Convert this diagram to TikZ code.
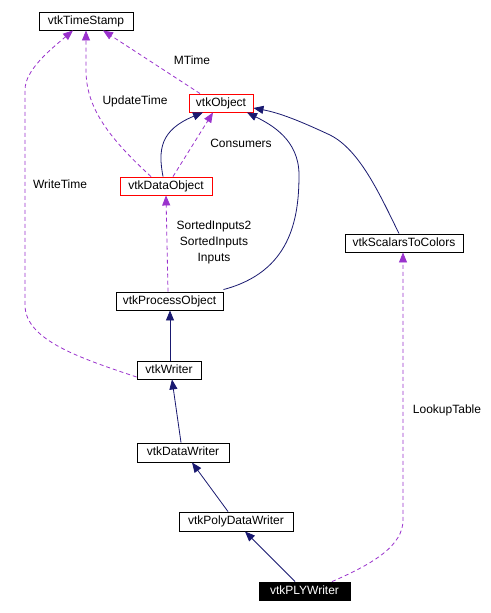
\documentclass[tikz,border=0pt]{standalone}
\usepackage{fontspec}
\setmainfont{Liberation Sans}
\usetikzlibrary{arrows.meta,calc}
\definecolor{inhblue}{HTML}{191970}
\definecolor{usepurple}{HTML}{9A32CD}
\begin{document}
\begin{tikzpicture}[x=1pt,y=-1pt,
  font=\fontsize{12}{16}\selectfont,
  cls/.style={draw=black,line width=0.9pt,fill=white,inner sep=0pt,minimum height=18pt,text height=9pt,text depth=2.5pt},
  redcls/.style={cls,draw=red},
  curcls/.style={cls,fill=black,text=white},
  inh/.style={draw=inhblue,line width=0.8pt,-{Triangle[length=10pt,width=8pt]}},
  use/.style={draw=usepurple,line width=0.8pt,dash pattern=on 4pt off 3pt,-{Triangle[length=10pt,width=8pt,fill=usepurple]}},
  lbl/.style={inner sep=0pt,align=center}]
\useasboundingbox (0,0) rectangle (490,613);
\fill[white] (0,0) rectangle (490,613);
% nodes
\node[cls,minimum width=94pt] (ts) at (86,21) {vtkTimeStamp};
\node[redcls,minimum width=64pt] (obj) at (221,103) {vtkObject};
\node[redcls,minimum width=92pt] (dobj) at (166,186) {vtkDataObject};
\node[cls,minimum width=107pt] (po) at (169.5,301) {vtkProcessObject};
\node[cls,minimum width=118pt] (stc) at (404,243) {vtkScalarsToColors};
\node[cls,minimum width=64pt] (wr) at (169,370) {vtkWriter};
\node[cls,minimum width=92pt,minimum height=19pt] (dw) at (183,452.5) {vtkDataWriter};
\node[cls,minimum width=114pt,minimum height=19pt] (pdw) at (236,521.5) {vtkPolyDataWriter};
\node[curcls,minimum width=91pt] (ply) at (304.5,591) {vtkPLYWriter};
% labels
\node[lbl] (lmt) at (192,60) {MTime};
\node[lbl] (lut) at (135,101) {UpdateTime};
\node[lbl] (lwt) at (60,184) {WriteTime};
\node[lbl] (lcons) at (241,143) {Consumers};
\node[lbl] (lin) at (214,242) {SortedInputs2\\SortedInputs\\Inputs};
\node[lbl] (llt) at (447,410) {LookupTable};
% usage edges
\draw[use] ([xshift=-21pt]obj.north) -- ([xshift=17pt]ts.south);
\draw[use] ([xshift=-15pt]dobj.north) .. controls ++(-46,-42) and (86,105) .. (86,70) -- (ts.south);
\draw[use] ([yshift=-7pt]wr.west) .. controls (80,358) and (25,340) .. (25,305) -- (25,90) .. controls (25,70) and (50,50) .. ([xshift=-13pt]ts.south);
\draw[use] ([xshift=7pt]dobj.north) -- ([xshift=-8pt]obj.south);
\draw[use] ([xshift=-1.5pt]po.north) -- (dobj.south);
\draw[use] ([xshift=27.5pt]ply.north) .. controls (375,563) and (403,545) .. (403,520) -- ([xshift=-1pt]stc.south);
% inheritance edges
\draw[inh] ([xshift=-3pt]dobj.north) .. controls (158,150) and (160,130) .. ([xshift=-18pt]obj.south);
\draw[inh] ([yshift=2pt]po.north east) .. controls (290,272) and (299,220) .. (299,175) .. controls (299,140) and (272,125) .. ([xshift=26pt]obj.south);
\draw[inh] ([xshift=-5pt]stc.north) .. controls (380,195) and (360,150) .. (330,135) .. controls (300,121) and (280,113) .. ([yshift=-5pt]obj.east);
\draw[inh] ([xshift=1pt]wr.north) -- ([xshift=0.5pt]po.south);
\draw[inh] ([xshift=-2pt]dw.north) -- ([xshift=3pt]wr.south);
\draw[inh] ([xshift=-8pt]pdw.north) -- ([xshift=9pt]dw.south);
\draw[inh] ([xshift=-9.5pt]ply.north) -- ([xshift=9pt]pdw.south);
\end{tikzpicture}
\end{document}
